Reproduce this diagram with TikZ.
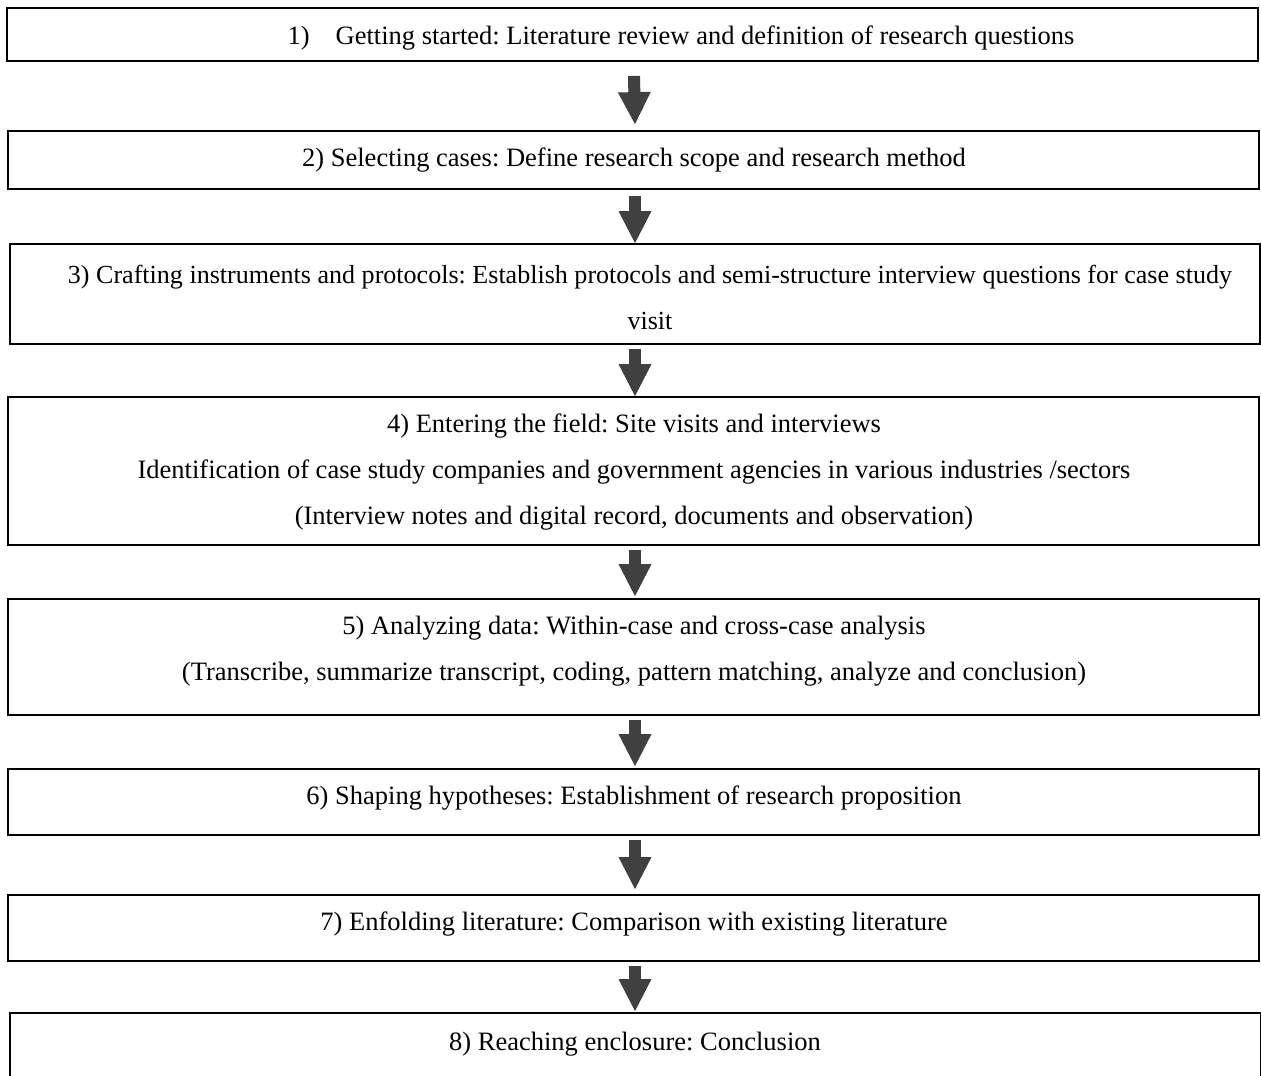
\documentclass[tikz,border=0pt]{standalone}
\usepackage{fontspec}
\setmainfont{Liberation Serif}
\frenchspacing
\usetikzlibrary{arrows.meta}
\begin{document}
\begin{tikzpicture}[x=1pt,y=-1pt,
  stepbox/.style={draw=black, line width=1.8pt, rectangle, inner sep=0pt},
  steptext/.style={inner sep=0pt, align=center, font=\fontsize{26.5}{46}\selectfont},
  bigarrow/.style={draw=black!75, line width=12pt,
    -{Triangle[width=33pt,length=32pt,line width=0pt]}}
]
\useasboundingbox (0,0) rectangle (1261,1076);

% step boxes
\node[stepbox, minimum width=1251, minimum height=53]  (b1) at (632.5,34.5) {};
\node[stepbox, minimum width=1251, minimum height=58]  (b2) at (633.5,160) {};
\node[stepbox, minimum width=1250, minimum height=100] (b3) at (635,294) {};
\node[stepbox, minimum width=1251, minimum height=148] (b4) at (633.5,471) {};
\node[stepbox, minimum width=1251, minimum height=116] (b5) at (633.5,657) {};
\node[stepbox, minimum width=1251, minimum height=66]  (b6) at (633.5,802) {};
\node[stepbox, minimum width=1251, minimum height=66]  (b7) at (633.5,928) {};
\node[stepbox, minimum width=1251, minimum height=80]  (b8) at (635.5,1053) {};

% step texts
\node[steptext] (t1) at (681,38) {1)\hspace{26pt}Getting started: Literature review and definition of research questions};
\node[steptext] (t2) at (634,160) {2) Selecting cases: Define research scope and research method};
\node[steptext, font=\fontsize{26.05}{46}\selectfont] (t3) at (650,297) {3) Crafting instruments and protocols: Establish protocols and semi-structure interview questions for case study\\visit};
\node[steptext] (t4) at (634,472) {4) Entering the field: Site visits and interviews\\Identification of case study companies and government agencies in various industries /sectors\\(Interview notes and digital record, documents and observation)};
\node[steptext] (t5) at (634,651) {5) Analyzing data: Within-case and cross-case analysis\\(Transcribe, summarize transcript, coding, pattern matching, analyze and conclusion)};
\node[steptext] (t6) at (634,798) {6) Shaping hypotheses: Establishment of research proposition};
\node[steptext] (t7) at (634,924) {7) Enfolding literature: Comparison with existing literature};
\node[steptext] (t8) at (635,1044) {8) Reaching enclosure: Conclusion};

% arrows between consecutive steps
\draw[bigarrow] ([xshift=1.5pt,yshift=-14pt]b1.south) -- ([xshift=1.5pt,yshift=6pt]b2.north);
\draw[bigarrow] ([xshift=1.5pt,yshift=-6pt]b2.south) -- ([xshift=0pt]b3.north);
\draw[bigarrow] ([xshift=0pt,yshift=-4pt]b3.south) -- ([xshift=1.5pt]b4.north);
\draw[bigarrow] ([xshift=1.5pt,yshift=-4pt]b4.south) -- ([xshift=1.5pt,yshift=2pt]b5.north);
\draw[bigarrow] ([xshift=1.5pt,yshift=-4pt]b5.south) -- ([xshift=1.5pt,yshift=2pt]b6.north);
\draw[bigarrow] ([xshift=1.5pt,yshift=-4pt]b6.south) -- ([xshift=1.5pt,yshift=5pt]b7.north);
\draw[bigarrow] ([xshift=1.5pt,yshift=-4pt]b7.south) -- ([xshift=-0.5pt,yshift=1pt]b8.north);
\end{tikzpicture}
\end{document}
